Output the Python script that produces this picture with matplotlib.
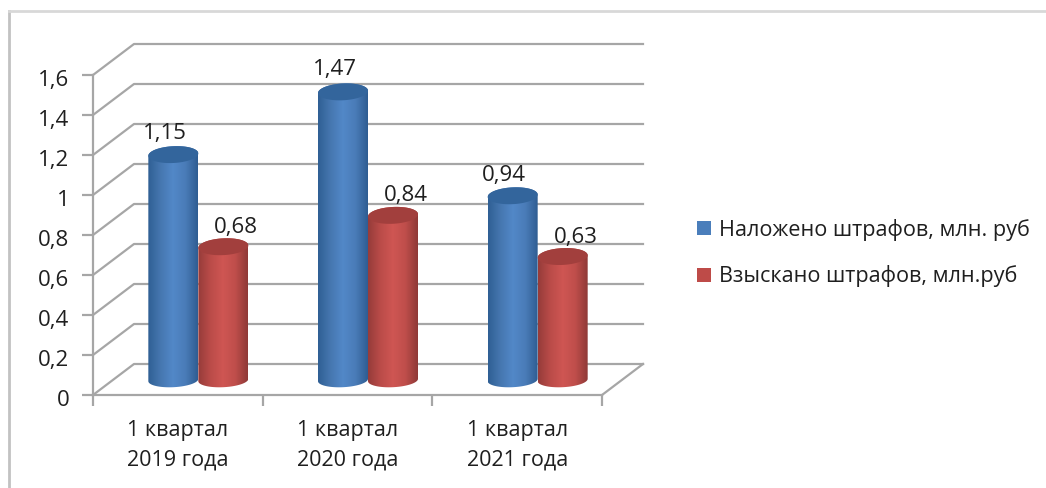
import numpy as np
import matplotlib
matplotlib.use('Agg')
import matplotlib.pyplot as plt
from matplotlib.colors import LinearSegmentedColormap
from matplotlib.lines import Line2D
from matplotlib.patches import Polygon
from matplotlib.transforms import ScaledTranslation

plt.rcParams['font.family'] = ['Open Sans', 'DejaVu Sans']

categories = ['1 квартал\n2019 года', '1 квартал\n2020 года', '1 квартал\n2021 года']
fined = [1.15, 1.47, 0.94]
collected = [0.68, 0.84, 0.63]
series_names = ['Наложено штрафов, млн. руб', 'Взыскано штрафов, млн.руб']
y_ticks = [0, 0.2, 0.4, 0.6, 0.8, 1, 1.2, 1.4, 1.6]

W, H = 1046, 488
GRID = '#a6a6a6'
TEXT = '#1f1f1f'

# front plane of the fake 3d box, in pixels
X0, X1, Y0, Y1 = 93, 602, 395, 75
DX = 41 / ((X1 - X0) / 3)   # depth shift in category units
DY = 31 / ((Y0 - Y1) / 1.6)   # depth shift in value units
BAR_SCALE = 0.98   # the bars come out a bit shorter than the walls

fig = plt.figure(figsize=(W / 100, H / 100), dpi=100)
ax = fig.add_axes([X0 / W, 1 - Y0 / H, (X1 - X0) / W, (Y0 - Y1) / H])
ax.set_xlim(0, 3)
ax.set_ylim(0, 1.6)
ax.patch.set_alpha(0)


def cylinder(x_left, width, value, colors, top_color, z=3):
    cmap = LinearSegmentedColormap.from_list('c', colors)
    left = x_left + DX / 2
    y_off = 0.075
    top_y = value * BAR_SCALE + y_off
    ry_top = 0.042
    ry_bot = 0.036
    tilt = 0.04
    t = np.linspace(0, np.pi, 60)
    xs = left + width / 2 - np.cos(t) * width / 2
    wob = tilt * (xs - (left + width / 2))
    # body outline: bottom arc, then top arc backwards
    bottom = np.column_stack([xs, y_off - np.sin(t) * ry_bot + wob])
    top = np.column_stack([xs, top_y + np.sin(t) * ry_top + wob])
    body = Polygon(np.vstack([bottom, top[::-1]]), closed=True, fc='none', ec='none',
                   transform=ax.transData)
    ax.add_patch(body)
    im = ax.imshow(np.linspace(0, 1, 128).reshape(1, -1), cmap=cmap, aspect='auto',
                   extent=[left, left + width, y_off - 0.1, top_y + 0.1],
                   zorder=z, clip_on=True)
    im.set_clip_path(body)
    cap = np.column_stack([xs, top_y - np.sin(t) * ry_top + wob])
    ax.add_patch(Polygon(np.vstack([cap, top[::-1]]), closed=True, fc=top_color,
                         ec='none', zorder=z + 0.1, clip_on=False))
    ax.set_xlim(0, 3)
    ax.set_ylim(0, 1.6)


# walls and floor
for v in y_ticks:
    ax.plot([0, DX, 3 + DX], [v, v + DY, v + DY], color=GRID, lw=1.6, clip_on=False, zorder=1)
ax.plot([3, 3 + DX], [0, DY], color=GRID, lw=1.6, clip_on=False, zorder=1)

BLUES = ['#2f5f94', '#4677b0', '#5288c8', '#4a7cb8', '#2f5d92']
REDS = ['#963c3a', '#bb4c49', '#cf5653', '#bf4e4b', '#8f3937']
bar_w = 50 / ((X1 - X0) / 3)
for i in range(len(categories)):
    cylinder(i + 0.5 - bar_w, bar_w, fined[i], BLUES, '#33659c', z=3)
    cylinder(i + 0.5, bar_w, collected[i], REDS, '#a23f3d', z=4)
    ax.text(i + 0.5 - bar_w / 2 + DX / 2 - 0.05, fined[i] + 0.158, f'{fined[i]}'.replace('.', ','),
            ha='center', va='center', fontsize=16, color=TEXT, zorder=6)
    ax.text(i + 0.5 + bar_w / 2 + DX / 2 + 0.075, collected[i] + 0.158, f'{collected[i]}'.replace('.', ','),
            ha='center', va='center', fontsize=16, color=TEXT, zorder=6)

for s in ['top', 'right']:
    ax.spines[s].set_visible(False)
for s in ['left', 'bottom']:
    ax.spines[s].set_color(GRID)
    ax.spines[s].set_linewidth(1.6)

ax.set_yticks(y_ticks)
ax.set_yticklabels([f'{v}'.replace('.', ',') for v in y_ticks], fontsize=16, color=TEXT)
ax.tick_params(axis='y', length=8, width=1.6, color=GRID, pad=9)
# nudge the value labels down a little
shift = ScaledTranslation(0, -2.5 / 72, fig.dpi_scale_trans)
for lab in ax.get_yticklabels():
    lab.set_transform(lab.get_transform() + shift)
ax.set_xticks([0, 1, 2, 3])
ax.set_xticklabels([])
ax.tick_params(axis='x', which='major', length=8, width=1.6, color=GRID)
ax.set_xticks([0.5, 1.5, 2.5], minor=True)
ax.set_xticklabels(categories, minor=True, fontsize=15.5, color=TEXT, linespacing=1.55)
ax.tick_params(axis='x', which='minor', length=0, pad=18)

# legend
handles = [Polygon([[0, 0]], fc=c, ec='none') for c in ['#4a7ebb', '#be4b48']]
fig.legend(handles, series_names, loc='center left', bbox_to_anchor=(697 / W, 1 - 253 / H),
           frameon=False, fontsize=15.6, labelcolor=TEXT, handlelength=0.65, handleheight=0.65,
           handletextpad=0.36, labelspacing=1.15, borderpad=0, borderaxespad=0)

# outer chart frame
fig.add_artist(Line2D([9 / W, 9 / W], [0, 1 - 11 / H], color='#c2c2c2', lw=2,
                      transform=fig.transFigure))
fig.add_artist(Line2D([9 / W, 1], [1 - 11 / H, 1 - 11 / H], color='#d8d8d8', lw=2,
                      transform=fig.transFigure))

fig.savefig('out.png', dpi=100)
